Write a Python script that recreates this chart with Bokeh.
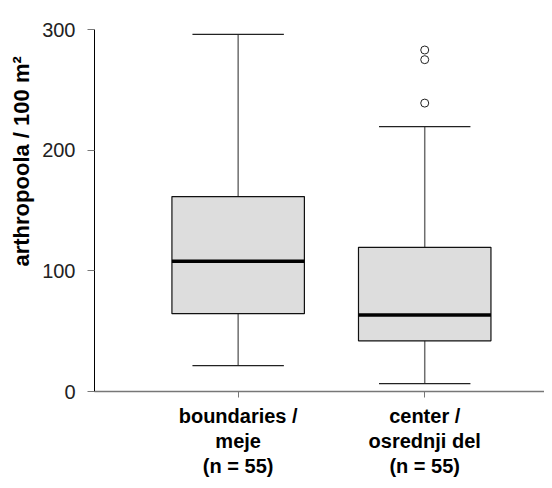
from bokeh.plotting import figure
from bokeh.models import Range1d, FixedTicker, Title, ColumnDataSource
from bokeh.embed import file_html
from bokeh.resources import INLINE

# ---- data ----
categories = ["boundaries /\nmeje\n(n = 55)", "center /\nosrednji del\n(n = 55)"]
positions = [1, 2]
lower_whisker = [21.5, 6.5]
q1 = [64.5, 42.0]
median = [108.0, 63.5]
q3 = [161.5, 119.5]
upper_whisker = [296.0, 219.5]
outlier_pos = [2, 2, 2]
outlier_vals = [283.0, 275.0, 239.0]
y_ticks = [0, 100, 200, 300]

BOX_W = 0.71
CAP_W = 0.49

src = ColumnDataSource(dict(
    x=positions,
    lw=lower_whisker, q1=q1, med=median, q3=q3, uw=upper_whisker,
    bx0=[x - BOX_W / 2 for x in positions], bx1=[x + BOX_W / 2 for x in positions],
    cx0=[x - CAP_W / 2 for x in positions], cx1=[x + CAP_W / 2 for x in positions],
))

p = figure(width=544, height=480, output_backend="svg", toolbar_location=None,
           x_range=Range1d(0.23, 2.642), y_range=Range1d(0, 300),
           min_border_left=93, min_border_right=0, min_border_top=29, min_border_bottom=88)
p.outline_line_color = None
p.xgrid.visible = False
p.ygrid.visible = False
p.background_fill_color = "white"
p.border_fill_color = "white"

# whiskers
p.segment(x0="x", y0="q3", x1="x", y1="uw", source=src, line_color="#6e6e6e", line_width=1.5)
p.segment(x0="x", y0="q1", x1="x", y1="lw", source=src, line_color="#6e6e6e", line_width=1.5)
# caps
p.segment(x0="cx0", y0="uw", x1="cx1", y1="uw", source=src, line_color="#222222", line_width=1.2)
p.segment(x0="cx0", y0="lw", x1="cx1", y1="lw", source=src, line_color="#222222", line_width=1.2)
# boxes
p.vbar(x="x", width=BOX_W, bottom="q1", top="q3", source=src,
       fill_color="#dddddd", line_color="#111111", line_width=1.2)
# medians
p.segment(x0="bx0", y0="med", x1="bx1", y1="med", source=src, line_color="black", line_width=3.5)
# outliers
p.scatter(x=outlier_pos, y=outlier_vals, size=8, marker="circle",
          fill_color=None, line_color="#222222", line_width=1)

# y axis
ya = p.yaxis[0]
ya.ticker = FixedTicker(ticks=y_ticks)
ya.minor_tick_line_color = None
ya.axis_line_color = "black"
ya.axis_line_width = 1
ya.major_tick_line_color = "#777777"
ya.major_tick_out = 7
ya.major_tick_in = 0
ya.major_label_standoff = 12
ya.major_label_text_font = "Liberation Sans"
ya.major_label_text_font_size = "20px"
ya.major_label_text_color = "#222222"

# x axis
xa = p.xaxis[0]
xa.ticker = FixedTicker(ticks=positions)
xa.major_label_overrides = {pos: lab for pos, lab in zip(positions, categories)}
xa.minor_tick_line_color = None
xa.axis_line_color = "#777777"
xa.axis_line_width = 1.5
xa.major_tick_line_color = "#777777"
xa.major_tick_out = 6
xa.major_tick_in = 0
xa.major_label_standoff = 7
xa.major_label_text_font = "Liberation Sans"
xa.major_label_text_font_style = "bold"
xa.major_label_text_font_size = "20px"
xa.major_label_text_line_height = 1.15
xa.major_label_text_color = "black"

# y axis title
t = Title(text="arthropoola / 100 m²", align="left", offset=125, standoff=12,
          text_font="Liberation Sans", text_font_style="bold", text_font_size="22px",
          text_color="black")
p.add_layout(t, "left")

open("out.html", "w").write(file_html(p, INLINE))
